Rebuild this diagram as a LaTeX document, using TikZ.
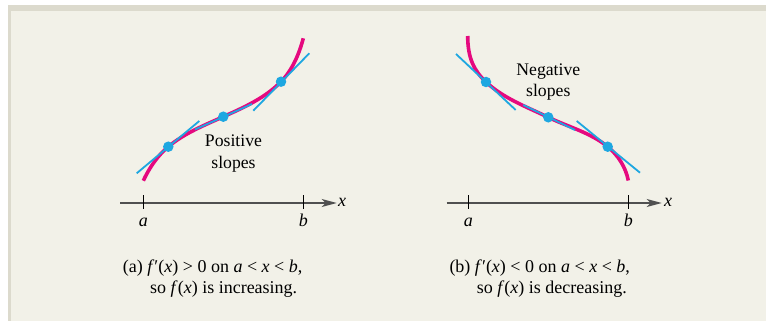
\documentclass[tikz,border=0pt]{standalone}
\usepackage{fontspec}
\setmainfont{Liberation Serif}
\usetikzlibrary{arrows.meta}
\definecolor{bgcream}{RGB}{242,241,232}
\definecolor{bandgrey}{RGB}{220,218,205}
\definecolor{curvepink}{RGB}{229,9,127}
\definecolor{tanblue}{RGB}{30,167,225}
\definecolor{axisgrey}{RGB}{80,80,80}
\begin{document}
\begin{tikzpicture}[x=1pt,y=-1pt,
  curve/.style={draw=curvepink,line width=3.6pt},
  tangent/.style={draw=tanblue,line width=1.8pt},
  dot/.style={circle,fill=tanblue,inner sep=0pt,minimum size=10.5pt},
  axis/.style={draw=axisgrey,line width=1.3pt,-{Stealth[length=15pt,width=8pt,inset=4pt]}},
  tickmark/.style={draw=black,line width=0.9pt},
  lbl/.style={font=\fontsize{17.7}{20}\selectfont,inner sep=0pt,anchor=base},
  captxt/.style={font=\fontsize{18}{21}\selectfont,inner sep=0pt,anchor=base west},
  axlbl/.style={font=\fontsize{18}{21}\selectfont\itshape,inner sep=0pt,anchor=base}]

\useasboundingbox (0,0) rectangle (766,321);
\fill[white] (0,0) rectangle (766,321);
\fill[bandgrey] (8,5) rectangle (766,321);
\fill[bgcream] (11,11) rectangle (766,321);

% ---------- left panel ----------
\coordinate (La0) at (120,203);
\coordinate (La1) at (336.7,203);
\draw[axis] (La0) -- (La1);
\draw[tickmark] (143.3,195) -- (143.3,209.3);
\draw[tickmark] (303.3,195) -- (303.3,209.3);
\node[axlbl] (La) at (143.3,226) {a};
\node[axlbl] (Lb) at (303.3,226) {b};
\node[axlbl] (Lx) at (342,206.7) {x};

\draw[curve] (143.3,180.7) .. controls (149.3,167.9) and (157.5,155.7) .. (168.3,146.7)
  .. controls (184.3,133.3) and (204.2,125.3) .. (223.3,116.7)
  .. controls (243.8,107.5) and (265.3,97.8) .. (281,81.7)
  .. controls (292.4,70.0) and (299.1,54.0) .. (303.3,38.3);

\draw[tangent] (136.7,173.3) -- (199.3,121);
\draw[tangent] (195,129.5) -- (252,104);
\draw[tangent] (253.3,110.7) -- (309.3,53.3);

\node[dot] (Ld1) at (168.3,146.7) {};
\node[dot] (Ld2) at (223.3,116.7) {};
\node[dot] (Ld3) at (281,81.7) {};

\node[lbl] (Lp1) at (233.5,146.7) {Positive};
\node[lbl] (Lp2) at (233.5,168.3) {slopes};

\node[captxt] (Lc1) at (122.7,272.5) {(a) \textit{f}′(\textit{x}) > 0 on \textit{a} < \textit{x} < \textit{b},};
\node[captxt] (Lc2) at (150,293.5) {so \textit{f}(\textit{x}) is increasing.};

% ---------- right panel ----------
\coordinate (Ra0) at (446.7,203);
\coordinate (Ra1) at (661.7,203);
\draw[axis] (Ra0) -- (Ra1);
\draw[tickmark] (468.3,195) -- (468.3,209.3);
\draw[tickmark] (628.3,195) -- (628.3,209.3);
\node[axlbl] (Ra) at (468.3,226) {a};
\node[axlbl] (Rb) at (628.3,226) {b};
\node[axlbl] (Rx) at (668,206.7) {x};

\draw[curve] (467.7,36) .. controls (467.7,58) and (474,70.7) .. (486,82)
  .. controls (503.4,98.3) and (526.7,106.9) .. (548.3,117.3)
  .. controls (568.2,126.9) and (590.6,132.7) .. (607.7,146.7)
  .. controls (617.9,155) and (625.7,167.1) .. (628.3,180.5);

\draw[tangent] (456,54) -- (515.7,110);
\draw[tangent] (523.3,105) -- (575,130);
\draw[tangent] (576.7,121) -- (640,172.7);

\node[dot] (Rd1) at (486,82) {};
\node[dot] (Rd2) at (548.3,117.3) {};
\node[dot] (Rd3) at (607.7,146.7) {};

\node[lbl] (Rn1) at (548.3,75) {Negative};
\node[lbl] (Rn2) at (548.3,96) {slopes};

\node[captxt] (Rc1) at (449.3,272.5) {(b) \textit{f}′(\textit{x}) < 0 on \textit{a} < \textit{x} < \textit{b},};
\node[captxt] (Rc2) at (476.7,293.5) {so \textit{f}(\textit{x}) is decreasing.};
\end{tikzpicture}
\end{document}
